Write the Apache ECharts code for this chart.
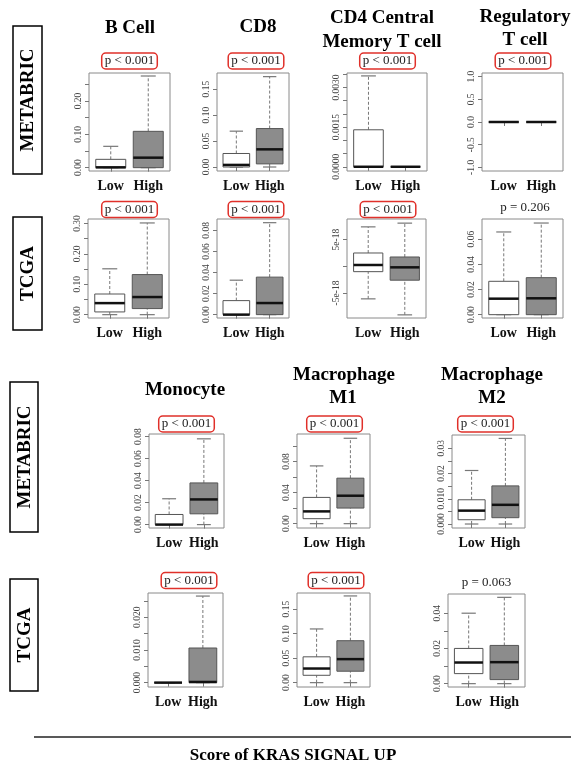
<!DOCTYPE html>
<html>
<head>
<meta charset="utf-8">
<script src="https://cdn.jsdelivr.net/npm/echarts@6/dist/echarts.min.js"></script>
<style>
html,body{margin:0;padding:0;background:#fff;}
#chart{width:571px;height:773px;}
</style>
</head>
<body>
<div id="chart"></div>
<script>
// ---------- DATA (box stats: [lower whisker, Q1, median, Q3, upper whisker]) ----------
const groups = ['Low', 'High'];

const metaBCellLow  = [0, 0, 0.001, 0.025, 0.064];
const metaBCellHigh = [0, 0, 0.030, 0.109, 0.275];
const metaCD8Low    = [0, 0, 0.004, 0.026, 0.069];
const metaCD8High   = [0, 0.006, 0.034, 0.074, 0.174];
const metaCD4Low    = [0, 0, 0, 0.0014, 0.00344];
const metaCD4High   = [0, 0, 0, 0, 0];
const metaTregLow   = [0, 0, 0, 0, 0];
const metaTregHigh  = [0, 0, 0, 0, 0];

const tcgaBCellLow  = [0, 0.009, 0.038, 0.068, 0.151];
const tcgaBCellHigh = [0, 0.020, 0.058, 0.132, 0.302];
const tcgaCD8Low    = [0, 0, 0, 0.0133, 0.0327];
const tcgaCD8High   = [0, 0, 0.011, 0.0356, 0.0873];
const tcgaCD4Low    = [-6.1, -1.0, 0.25, 2.5, 7.4];    // units of 1e-18
const tcgaCD4High   = [-9.1, -2.6, -0.19, 1.75, 8.1];  // units of 1e-18
const tcgaTregLow   = [0, 0, 0.0127, 0.0265, 0.0657];
const tcgaTregHigh  = [0, 0, 0.013, 0.0294, 0.0728];

const metaMonoLow   = [0, 0, 0, 0.0092, 0.0235];
const metaMonoHigh  = [0, 0.0098, 0.0229, 0.0379, 0.078];
const metaM1Low     = [0, 0.0064, 0.0158, 0.0338, 0.0744];
const metaM1High    = [0, 0.0201, 0.036, 0.0586, 0.110];
const metaM2Low     = [0, 0.0017, 0.0053, 0.0096, 0.0212];
const metaM2High    = [0, 0.0025, 0.0076, 0.0151, 0.0339];

const tcgaMonoLow   = [0, 0, 0, 0, 0];
const tcgaMonoHigh  = [0, 0, 0.0002, 0.0106, 0.0265];
const tcgaM1Low     = [0, 0.015, 0.0288, 0.0527, 0.1096];
const tcgaM1High    = [0, 0.0233, 0.048, 0.0856, 0.177];
const tcgaM2Low     = [0, 0.0057, 0.012, 0.020, 0.040];
const tcgaM2High    = [0, 0.0023, 0.0122, 0.0217, 0.049];

// ---------- AXES: ranges, tick values, tick labels ----------
const metaBCellRange = [-0.010, 0.284];
const metaBCellTicks = [0, 0.05, 0.10, 0.15, 0.20, 0.25];
const metaBCellLabelVals = [0, 0.10, 0.20];
const metaBCellLabels = ['0.00', '0.10', '0.20'];

const metaCD8Range = [-0.0077, 0.181];
const metaCD8Ticks = [0, 0.05, 0.10, 0.15];
const metaCD8LabelVals = [0, 0.05, 0.10, 0.15];
const metaCD8Labels = ['0.00', '0.05', '0.10', '0.15'];

const metaCD4Range = [-0.00016, 0.00355];
const metaCD4Ticks = [0, 0.0005, 0.0010, 0.0015, 0.0020, 0.0025, 0.0030, 0.0035];
const metaCD4LabelVals = [0, 0.0015, 0.0030];
const metaCD4Labels = ['0.0000', '0.0015', '0.0030'];

const metaTregRange = [-1.08, 1.08];
const metaTregTicks = [-1, -0.5, 0, 0.5, 1];
const metaTregLabelVals = [-1, -0.5, 0, 0.5, 1];
const metaTregLabels = ['-1.0', '-0.5', '0.0', '0.5', '1.0'];

const tcgaBCellRange = [-0.011, 0.315];
const tcgaBCellTicks = [0, 0.05, 0.10, 0.15, 0.20, 0.25, 0.30];
const tcgaBCellLabelVals = [0, 0.10, 0.20, 0.30];
const tcgaBCellLabels = ['0.00', '0.10', '0.20', '0.30'];

const tcgaCD8Range = [-0.0032, 0.0908];
const tcgaCD8Ticks = [0, 0.02, 0.04, 0.06, 0.08];
const tcgaCD8LabelVals = [0, 0.02, 0.04, 0.06, 0.08];
const tcgaCD8Labels = ['0.00', '0.02', '0.04', '0.06', '0.08'];

const tcgaCD4Range = [-9.69, 8.875];
const tcgaCD4Ticks = [-5, 0, 5];
const tcgaCD4LabelVals = [-5, 5];
const tcgaCD4Labels = ['-5e-18', '5e-18'];

const tcgaTregRange = [-0.00265, 0.076];
const tcgaTregTicks = [0, 0.02, 0.04, 0.06];
const tcgaTregLabelVals = [0, 0.02, 0.04, 0.06];
const tcgaTregLabels = ['0.00', '0.02', '0.04', '0.06'];

const metaMonoRange = [-0.0031, 0.0824];
const metaMonoTicks = [0, 0.02, 0.04, 0.06, 0.08];
const metaMonoLabelVals = [0, 0.02, 0.04, 0.06, 0.08];
const metaMonoLabels = ['0.00', '0.02', '0.04', '0.06', '0.08'];

const metaM1Range = [-0.0056, 0.1155];
const metaM1Ticks = [0, 0.02, 0.04, 0.06, 0.08, 0.10];
const metaM1LabelVals = [0, 0.04, 0.08];
const metaM1Labels = ['0.00', '0.04', '0.08'];

const metaM2Range = [-0.00158, 0.03526];
const metaM2Ticks = [0, 0.005, 0.010, 0.015, 0.020, 0.025, 0.030];
const metaM2LabelVals = [0, 0.010, 0.020, 0.030];
const metaM2Labels = ['0.000', '0.010', '0.02', '0.03'];

const tcgaMonoRange = [-0.00134, 0.02744];
const tcgaMonoTicks = [0, 0.005, 0.010, 0.015, 0.020, 0.025];
const tcgaMonoLabelVals = [0, 0.010, 0.020];
const tcgaMonoLabels = ['0.000', '0.010', '0.020'];

const tcgaM1Range = [-0.0089, 0.183];
const tcgaM1Ticks = [0, 0.05, 0.10, 0.15];
const tcgaM1LabelVals = [0, 0.05, 0.10, 0.15];
const tcgaM1Labels = ['0.00', '0.05', '0.10', '0.15'];

const tcgaM2Range = [-0.0019, 0.0509];
const tcgaM2Ticks = [0, 0.01, 0.02, 0.03, 0.04];
const tcgaM2LabelVals = [0, 0.02, 0.04];
const tcgaM2Labels = ['0.00', '0.02', '0.04'];

// ---------- LAYOUT ----------
const SERIF = '"Liberation Serif","Times New Roman",serif';
// frame: [left, top, right, bottom]; pPos: [cx, cy]
const panels = [
  {low: metaBCellLow, high: metaBCellHigh, range: metaBCellRange, ticks: metaBCellTicks, lv: metaBCellLabelVals, lt: metaBCellLabels, frame: [89, 73, 170, 171], p: 'p < 0.001', sig: true, pPos: [129.5, 61]},
  {low: metaCD8Low, high: metaCD8High, range: metaCD8Range, ticks: metaCD8Ticks, lv: metaCD8LabelVals, lt: metaCD8Labels, frame: [217, 73, 289, 171], p: 'p < 0.001', sig: true, pPos: [256, 61]},
  {low: metaCD4Low, high: metaCD4High, range: metaCD4Range, ticks: metaCD4Ticks, lv: metaCD4LabelVals, lt: metaCD4Labels, frame: [347, 73, 427, 171], p: 'p < 0.001', sig: true, pPos: [387.5, 61]},
  {low: metaTregLow, high: metaTregHigh, range: metaTregRange, ticks: metaTregTicks, lv: metaTregLabelVals, lt: metaTregLabels, frame: [482, 73, 563, 171], p: 'p < 0.001', sig: true, pPos: [523, 61]},

  {low: tcgaBCellLow, high: tcgaBCellHigh, range: tcgaBCellRange, ticks: tcgaBCellTicks, lv: tcgaBCellLabelVals, lt: tcgaBCellLabels, frame: [88, 219, 169, 318], p: 'p < 0.001', sig: true, pPos: [129.5, 209.5]},
  {low: tcgaCD8Low, high: tcgaCD8High, range: tcgaCD8Range, ticks: tcgaCD8Ticks, lv: tcgaCD8LabelVals, lt: tcgaCD8Labels, frame: [217, 219, 289, 318], p: 'p < 0.001', sig: true, pPos: [256, 209.5]},
  {low: tcgaCD4Low, high: tcgaCD4High, range: tcgaCD4Range, ticks: tcgaCD4Ticks, lv: tcgaCD4LabelVals, lt: tcgaCD4Labels, frame: [347, 219, 426, 318], p: 'p < 0.001', sig: true, pPos: [388, 209.5]},
  {low: tcgaTregLow, high: tcgaTregHigh, range: tcgaTregRange, ticks: tcgaTregTicks, lv: tcgaTregLabelVals, lt: tcgaTregLabels, frame: [482, 219, 563, 318], p: 'p = 0.206', sig: false, pPos: [525, 208]},

  {low: metaMonoLow, high: metaMonoHigh, range: metaMonoRange, ticks: metaMonoTicks, lv: metaMonoLabelVals, lt: metaMonoLabels, frame: [149, 434, 224, 528], p: 'p < 0.001', sig: true, pPos: [186.5, 424]},
  {low: metaM1Low, high: metaM1High, range: metaM1Range, ticks: metaM1Ticks, lv: metaM1LabelVals, lt: metaM1Labels, frame: [297, 434, 370, 528], p: 'p < 0.001', sig: true, pPos: [334.5, 424]},
  {low: metaM2Low, high: metaM2High, range: metaM2Range, ticks: metaM2Ticks, lv: metaM2LabelVals, lt: metaM2Labels, frame: [452, 435, 525, 528], p: 'p < 0.001', sig: true, pPos: [485.5, 424]},

  {low: tcgaMonoLow, high: tcgaMonoHigh, range: tcgaMonoRange, ticks: tcgaMonoTicks, lv: tcgaMonoLabelVals, lt: tcgaMonoLabels, frame: [148, 593, 223, 687], p: 'p < 0.001', sig: true, pPos: [189, 580.5]},
  {low: tcgaM1Low, high: tcgaM1High, range: tcgaM1Range, ticks: tcgaM1Ticks, lv: tcgaM1LabelVals, lt: tcgaM1Labels, frame: [297, 593, 370, 687], p: 'p < 0.001', sig: true, pPos: [336, 580.5]},
  {low: tcgaM2Low, high: tcgaM2High, range: tcgaM2Range, ticks: tcgaM2Ticks, lv: tcgaM2LabelVals, lt: tcgaM2Labels, frame: [448, 594, 525, 687], p: 'p = 0.063', sig: false, pPos: [486.5, 583]}
];

const titles = [
  ['B Cell', 130, 28], ['CD8', 258, 27],
  ['CD4 Central', 382, 18], ['Memory T cell', 382, 42],
  ['Regulatory', 525, 17], ['T cell', 525, 40],
  ['Monocyte', 185, 390],
  ['Macrophage', 344, 375], ['M1', 343, 398],
  ['Macrophage', 492, 375], ['M2', 492, 398]
];
const rowLabels = [
  ['METABRIC', 13, 26, 29, 148], ['TCGA', 13, 217, 29, 113],
  ['METABRIC', 10, 382, 28, 150], ['TCGA', 10, 579, 28, 112]
];

// ---------- BUILD ----------
function makeFmt(vals, texts) {
  return function (v) {
    for (let k = 0; k < vals.length; k++) {
      if (Math.abs(v - vals[k]) < 1e-9 * Math.max(1, Math.abs(vals[k]))) return texts[k];
    }
    return '';
  };
}

const FILLS = ['#ffffff', '#8c8c8c'];
function renderBox(params, api) {
  const x = api.value(0);
  const lo = api.value(1), q1 = api.value(2), med = api.value(3), q3 = api.value(4), hi = api.value(5);
  const c = (xx, yy) => api.coord([xx, yy]);
  const bw = 0.4, cw = 0.2;
  const a = c(x - bw, q3), b = c(x + bw, q1);
  const line = (p1, p2, style) => ({type: 'line', shape: {x1: p1[0], y1: p1[1], x2: p2[0], y2: p2[1]}, style: style});
  const dash = {stroke: '#777', lineWidth: 1, lineDash: [3, 2]};
  const cap = {stroke: '#777', lineWidth: 1.2};
  return {
    type: 'group',
    children: [
      line(c(x, q3), c(x, hi), dash),
      line(c(x, lo), c(x, q1), dash),
      line(c(x - cw, hi), c(x + cw, hi), cap),
      line(c(x - cw, lo), c(x + cw, lo), cap),
      {type: 'rect', shape: {x: a[0], y: a[1], width: b[0] - a[0], height: b[1] - a[1]},
       style: {fill: FILLS[params.dataIndex], stroke: '#555', lineWidth: 1}},
      line(c(x - bw, med), c(x + bw, med), {stroke: '#111', lineWidth: 2.5})
    ]
  };
}

const grid = [], xAxis = [], yAxis = [], series = [], graphic = [];
panels.forEach((p, i) => {
  const f = p.frame;
  grid.push({left: f[0], top: f[1], width: f[2] - f[0], height: f[3] - f[1],
    show: true, borderColor: '#8a8a8a', borderWidth: 1, backgroundColor: 'transparent',
    containLabel: false, outerBoundsMode: 'none'});
  xAxis.push({type: 'value', gridIndex: i, min: 0.42, max: 2.58,
    splitLine: {show: false}, axisLine: {show: false},
    axisTick: {show: true, customValues: [1, 2], length: 4, lineStyle: {color: '#777'}},
    axisLabel: {customValues: [1, 2], formatter: v => groups[Math.round(v) - 1] || '', margin: 8,
      fontFamily: SERIF, fontWeight: 'bold', fontSize: 14, color: '#111'}});
  yAxis.push({type: 'value', gridIndex: i, min: p.range[0], max: p.range[1],
    splitLine: {show: false}, axisLine: {show: false},
    axisTick: {show: true, customValues: p.ticks, length: 4, lineStyle: {color: '#777'}},
    axisLabel: {customValues: p.lv, formatter: makeFmt(p.lv, p.lt), rotate: 90, margin: 6,
      fontFamily: SERIF, fontSize: 9.5, color: '#444'}});
  series.push({type: 'custom', xAxisIndex: i, yAxisIndex: i, silent: true, clip: false,
    dimensions: ['x', 'lo', 'q1', 'med', 'q3', 'hi'],
    encode: {x: 0, y: [1, 2, 3, 4, 5]},
    data: [[1].concat(p.low), [2].concat(p.high)],
    renderItem: renderBox});
  graphic.push({type: 'text', x: p.pPos[0], y: p.pPos[1], silent: true,
    style: Object.assign({text: p.p, fill: '#222', font: '13px ' + SERIF, align: 'center', verticalAlign: 'middle'},
      p.sig ? {borderColor: '#e0302a', borderWidth: 1.5, borderRadius: 4, padding: [2, 3, 1, 3]} : {})});
});

titles.forEach(t => graphic.push({type: 'text', x: t[1], y: t[2], silent: true,
  style: {text: t[0], fill: '#000', font: 'bold 19px ' + SERIF, align: 'center', verticalAlign: 'middle'}}));

rowLabels.forEach(r => {
  graphic.push({type: 'rect', silent: true, shape: {x: r[1], y: r[2], width: r[3], height: r[4]},
    style: {fill: '#fff', stroke: '#000', lineWidth: 1.5}});
  graphic.push({type: 'text', silent: true, x: r[1] + r[3] / 2 + 1, y: r[2] + r[4] / 2, rotation: Math.PI / 2,
    style: {text: r[0], fill: '#000', font: 'bold 19px ' + SERIF, align: 'center', verticalAlign: 'middle'}});
});

graphic.push({type: 'line', silent: true, shape: {x1: 34, y1: 737, x2: 571, y2: 737}, style: {stroke: '#222', lineWidth: 1.5}});
graphic.push({type: 'text', silent: true, x: 293, y: 756,
  style: {text: 'Score of KRAS SIGNAL UP', fill: '#000', font: 'bold 17px ' + SERIF, align: 'center', verticalAlign: 'middle'}});

const chart = echarts.init(document.getElementById('chart'), null, {renderer: 'canvas'});
chart.setOption({animation: false, backgroundColor: '#fff', grid, xAxis, yAxis, series, graphic});
</script>
</body>
</html>
